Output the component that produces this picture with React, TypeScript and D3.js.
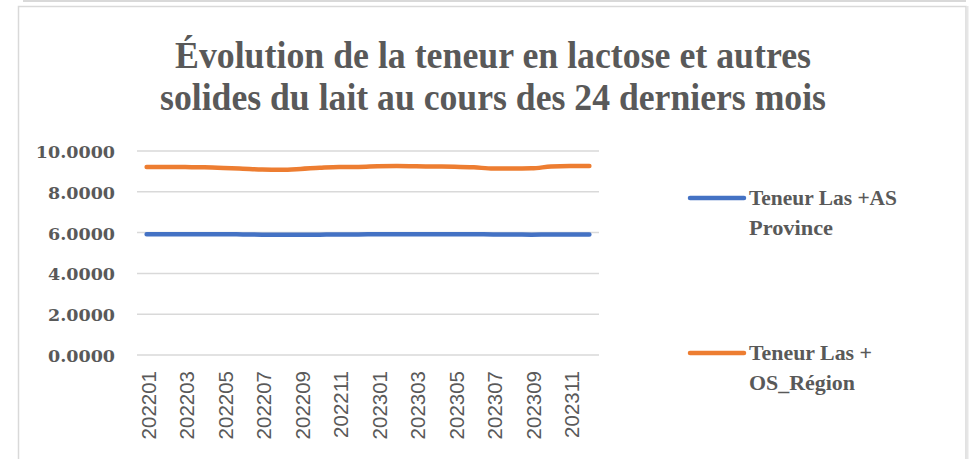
import React from "react";
import * as d3 from "d3";

const months = [
  "202201", "202202", "202203", "202204", "202205", "202206",
  "202207", "202208", "202209", "202210", "202211", "202212",
  "202301", "202302", "202303", "202304", "202305", "202306",
  "202307", "202308", "202309", "202310", "202311", "202312",
];

const province = [
  5.92, 5.92, 5.92, 5.92, 5.92, 5.91, 5.90, 5.89, 5.89, 5.90, 5.91, 5.91,
  5.92, 5.92, 5.92, 5.92, 5.92, 5.92, 5.91, 5.91, 5.90, 5.91, 5.91, 5.91,
];

const region = [
  9.22, 9.22, 9.21, 9.20, 9.17, 9.13, 9.09, 9.08, 9.12, 9.18, 9.22, 9.22,
  9.25, 9.26, 9.25, 9.24, 9.23, 9.20, 9.14, 9.14, 9.15, 9.24, 9.27, 9.27,
];

const yTicks = [0, 2, 4, 6, 8, 10];

const seriesNames = [
  ["Teneur Las +AS", "Province"],
  ["Teneur Las +", "OS_Région"],
];
const colors = ["#4472c4", "#ed7d31"];

const titleLines = [
  "Évolution de la teneur en lactose et autres",
  "solides du lait au cours des 24 derniers mois",
];

const W = 973;
const H = 459;
const plot = { left: 137, right: 599, top: 151, bottom: 355 };

const titleWidths = [636, 666];
const legendWidths = [[148, 84], [123, 106]];

export default function App() {
  const x = d3
    .scaleBand<string>()
    .domain(months)
    .range([plot.left, plot.right]);
  const y = d3.scaleLinear().domain([0, 10]).range([plot.bottom, plot.top]);
  const cx = (m: string) => (x(m) as number) + x.bandwidth() / 2;

  const line = d3
    .line<number>()
    .x((_, i) => cx(months[i]))
    .y((d) => y(d))
    .curve(d3.curveMonotoneX);

  const data = [province, region];
  const legendY = [198, 353];
  const gray = "#595959";

  return (
    <svg
      width={W}
      height={H}
      style={{ position: "absolute", left: 0, top: 0, background: "#fff" }}
    >
      {/* frames */}
      <line x1={23} x2={966} y1={1} y2={1} stroke="#d9d9d9" strokeWidth={2} />
      <path
        d={`M18.5,${H} V6.5 H966 V${H}`}
        fill="none"
        stroke="#d9d9d9"
        strokeWidth={1.5}
      />
      <line x1={967.5} x2={967.5} y1={6} y2={H} stroke="#e6e6e6" strokeWidth={2} />

      {/* title */}
      {titleLines.map((t, i) => (
        <text
          key={t}
          x={493}
          y={68 + i * 42}
          textAnchor="middle"
          fill={gray}
          fontFamily="Liberation Serif"
          fontWeight="bold"
          fontSize={37}
          textLength={titleWidths[i]}
          lengthAdjust="spacingAndGlyphs"
        >
          {t}
        </text>
      ))}

      {/* gridlines */}
      {yTicks.map((t) => (
        <g key={t}>
          <line
            x1={plot.left}
            x2={plot.right}
            y1={y(t)}
            y2={y(t)}
            stroke="#d9d9d9"
            strokeWidth={1.5}
          />
          <text
            x={115}
            y={y(t) + 7}
            textAnchor="end"
            fill={gray}
            fontFamily="DejaVu Serif"
            fontWeight="bold"
            fontSize={17.5}
          >
            {t.toFixed(4)}
          </text>
        </g>
      ))}

      {/* x labels */}
      {months
        .filter((_, i) => i % 2 === 0)
        .map((m) => (
          <text
            key={m}
            transform={`translate(${cx(m) + 9},371) rotate(-90)`}
            textAnchor="end"
            fill={gray}
            fontFamily="Liberation Sans"
            fontSize={20.5}
          >
            {m}
          </text>
        ))}

      {/* lines */}
      {data.map((d, i) => (
        <path
          key={i}
          d={line(d) ?? ""}
          fill="none"
          stroke={colors[i]}
          strokeWidth={4.5}
          strokeLinecap="round"
          strokeLinejoin="round"
        />
      ))}

      {/* legend */}
      {seriesNames.map((names, i) => (
        <g key={i}>
          <line
            x1={690}
            x2={744}
            y1={legendY[i]}
            y2={legendY[i]}
            stroke={colors[i]}
            strokeWidth={4.5}
            strokeLinecap="round"
          />
          {names.map((n, j) => (
            <text
              key={n}
              x={749}
              y={legendY[i] + 7 + j * 30}
              fill={gray}
              fontFamily="Liberation Serif"
              fontWeight="bold"
              fontSize={22}
              textLength={legendWidths[i][j]}
              lengthAdjust="spacingAndGlyphs"
            >
              {n}
            </text>
          ))}
        </g>
      ))}
    </svg>
  );
}
